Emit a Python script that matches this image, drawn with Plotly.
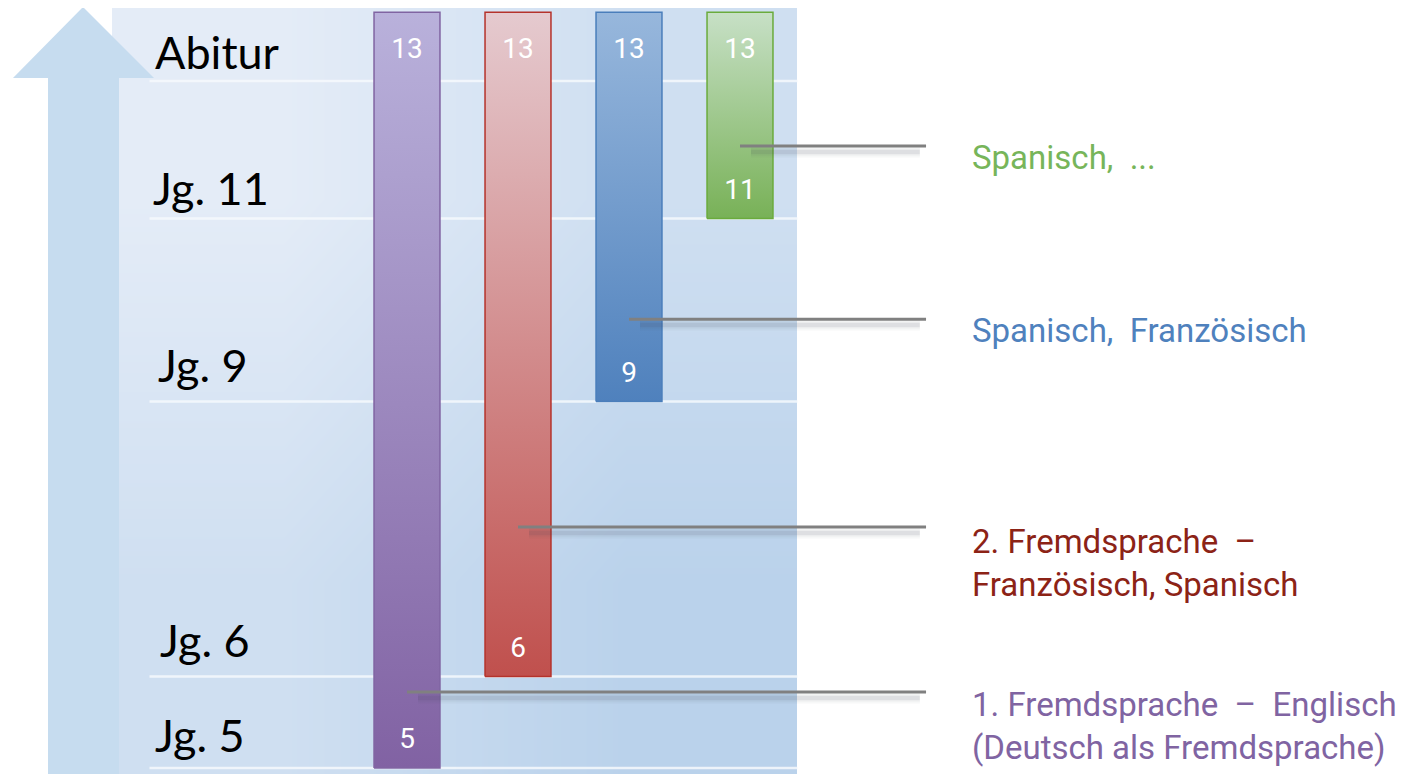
import plotly.graph_objects as go

# ---------------- data ----------------
level_labels = ["Jg. 5", "Jg. 6", "Jg. 9", "Jg. 11", "Abitur"]
level_grades = [5, 6, 9, 11, 12.5]

bar_start = [5, 6, 9, 11]
bar_end = [13, 13, 13, 13]
bar_columns = [1, 2, 3, 4]

side_texts = [
    "1. Fremdsprache  –  Englisch<br>(Deutsch als Fremdsprache)",
    "2. Fremdsprache  –<br>Französisch, Spanisch",
    "Spanisch,  Französisch",
    "Spanisch,  ...",
]

# ---------------- styles ----------------
bar_top_color = ["#b9b1db", "#e5cacf", "#97b7dc", "#c7e0c6"]
bar_bot_color = ["#8162a3", "#c0504d", "#4f81bd", "#78b157"]
bar_edge_color = ["#8064a2", "#b5322b", "#4a7ebb", "#6aab3c"]
text_color = ["#8064a2", "#8c2316", "#4f81bd", "#77b55a"]
leader_y = [5.83, 7.63, 9.90, 11.79]
label_y = [5.46, 7.24, 9.78, 11.67]
level_label_dy = [0.36, 0.40, 0.40, 0.33, 0.32]
level_label_x = [-1.29, -1.24, -1.26, -1.31, -1.29]

W, H = 1406, 774
OFF = 8  # page body margin compensation
half_w = 0.297
top_extra = 0.25
PX_COL, PX_GRADE = 111.0, 91.6

fig = go.Figure()

# background panel (diagonal gradient) on pixel axes
fig.add_trace(go.Heatmap(
    x=[112, 454.5, 797], y=[7, 390.5, 774],
    z=[[0, 0.5], [0.5, 1]],
    zsmooth="best", showscale=False, hoverinfo="skip",
    colorscale=[[0, "#e4ecf7"], [1, "#bad2eb"]],
    xaxis="x", yaxis="y",
))

# gridlines (overlay axes, grade units)
for g in level_grades:
    fig.add_trace(go.Scatter(
        x=[-1.32, 4.52], y=[g, g], mode="lines",
        line=dict(color="rgba(246,249,253,0.85)", width=2.5),
        hoverinfo="skip", showlegend=False, xaxis="x2", yaxis="y2",
    ))

# bars
for i in range(4):
    c = bar_columns[i]
    b = bar_start[i]
    t = bar_end[i] + top_extra
    fig.add_trace(go.Scatter(
        x=[c - half_w, c + half_w, c + half_w, c - half_w, c - half_w],
        y=[b, b, t, t, b],
        mode="lines", fill="toself",
        line=dict(color=bar_edge_color[i], width=1.5),
        fillgradient=dict(type="vertical", start=b, stop=t,
                          colorscale=[[0, bar_bot_color[i]], [1, bar_top_color[i]]]),
        hoverinfo="skip", showlegend=False, xaxis="x2", yaxis="y2",
    ))

# leader lines with soft shadow
for i in range(4):
    c = bar_columns[i]
    for w, a in [(11, 0.04), (7, 0.06), (4, 0.08)]:
        fig.add_trace(go.Scatter(
            x=[c + 0.1, 5.62], y=[leader_y[i] - 0.065] * 2, mode="lines",
            line=dict(color=f"rgba(60,70,85,{a})", width=w),
            hoverinfo="skip", showlegend=False, xaxis="x2", yaxis="y2",
        ))
    fig.add_trace(go.Scatter(
        x=[c, 5.676], y=[leader_y[i]] * 2, mode="lines",
        line=dict(color="#808080", width=3),
        hoverinfo="skip", showlegend=False, xaxis="x2", yaxis="y2",
    ))

# numbers in bars
fig.add_trace(go.Scatter(
    x=bar_columns, y=[e - 0.42 + top_extra for e in bar_end],
    text=[str(e) for e in bar_end], mode="text",
    textfont=dict(color="white", size=28, family="Roboto"),
    hoverinfo="skip", showlegend=False, xaxis="x2", yaxis="y2",
))
fig.add_trace(go.Scatter(
    x=bar_columns, y=[s + 0.29 for s in bar_start],
    text=[str(s) for s in bar_start], mode="text",
    textfont=dict(color="white", size=28, family="Roboto"),
    hoverinfo="skip", showlegend=False, xaxis="x2", yaxis="y2",
))

annotations = []
for lab, g, dy, lx in zip(level_labels, level_grades, level_label_dy, level_label_x):
    annotations.append(dict(
        x=lx, y=g + dy, xref="x2", yref="y2", text=lab,
        showarrow=False, xanchor="left", yanchor="middle",
        font=dict(family="Lato", size=45, color="black"),
    ))
for i in range(4):
    annotations.append(dict(
        x=6.07, y=label_y[i], xref="x2", yref="y2", text=side_texts[i],
        showarrow=False, xanchor="left", yanchor="middle", align="left",
        font=dict(family="Roboto", size=33, color=text_color[i]),
    ))

# arrow
shapes = [dict(
    type="path", xref="x", yref="y", layer="above",
    path="M 48,790 L 48,78 L 13,78 L 83,7 L 154,78 L 119,78 L 119,790 Z",
    fillcolor="#c6dcef", line=dict(width=0),
)]

fig.update_layout(
    width=W, height=H,
    margin=dict(l=0, r=0, t=0, b=0),
    paper_bgcolor="white", plot_bgcolor="rgba(0,0,0,0)",
    showlegend=False,
    xaxis=dict(range=[OFF, W + OFF], visible=False, fixedrange=True),
    yaxis=dict(range=[H + OFF, OFF], visible=False, fixedrange=True),
    xaxis2=dict(range=[1 + (OFF - 407) / PX_COL, 1 + (W + OFF - 407) / PX_COL],
                overlaying="x", visible=False, fixedrange=True),
    yaxis2=dict(range=[5 - (H + OFF - 768) / PX_GRADE, 5 + (768 - OFF) / PX_GRADE],
                overlaying="y", visible=False, fixedrange=True),
    annotations=annotations,
    shapes=shapes,
)

fig.write_html("out.html")
